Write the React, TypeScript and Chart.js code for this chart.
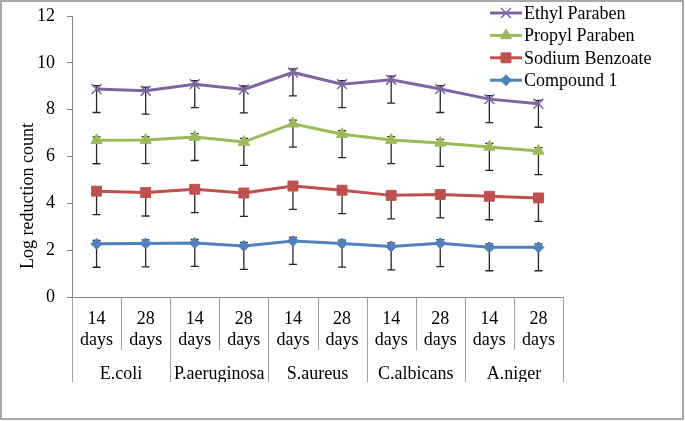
import React, { useEffect, useRef } from 'react';
import { Chart, registerables, Plugin } from 'chart.js';
import { drawPoint } from 'chart.js/helpers';

Chart.register(...registerables);

// categories
const periods = [
  ['14', 'days'], ['28', 'days'],
  ['14', 'days'], ['28', 'days'],
  ['14', 'days'], ['28', 'days'],
  ['14', 'days'], ['28', 'days'],
  ['14', 'days'], ['28', 'days'],
];
const organisms = ['E.coli', 'P.aeruginosa', 'S.aureus', 'C.albicans', 'A.niger'];

// log reduction values
const ethylParaben = [8.88, 8.81, 9.09, 8.86, 9.59, 9.09, 9.28, 8.88, 8.45, 8.25];
const propylParaben = [6.69, 6.70, 6.83, 6.62, 7.40, 6.95, 6.70, 6.58, 6.41, 6.23];
const sodiumBenzoate = [4.52, 4.46, 4.60, 4.44, 4.74, 4.56, 4.34, 4.38, 4.30, 4.23];
const compound1 = [2.27, 2.29, 2.31, 2.18, 2.39, 2.28, 2.16, 2.30, 2.12, 2.12];

// error bar sizes (below / above the point)
const errorBelow = 1.0;
const errorAbove = 0.15;

const yMin = 0;
const yMax = 12;
const yStep = 2;
const yTitle = 'Log reduction count';

const FONT = '"Liberation Serif", "Times New Roman", serif';
const AXIS_GREY = '#868686';

const errorBars: Plugin<'line'> = {
  id: 'errorBars',
  beforeDatasetsDraw(chart) {
    const { ctx } = chart;
    const y = chart.scales.y;
    ctx.save();
    ctx.strokeStyle = '#262626';
    ctx.lineWidth = 1.3;
    chart.data.datasets.forEach((ds, di) => {
      const meta = chart.getDatasetMeta(di);
      meta.data.forEach((pt, i) => {
        const v = ds.data[i] as number;
        const top = y.getPixelForValue(v + errorAbove);
        const bottom = y.getPixelForValue(v - errorBelow);
        const px = pt.x;
        ctx.beginPath();
        ctx.moveTo(px, top);
        ctx.lineTo(px, bottom);
        ctx.moveTo(px - 4, top);
        ctx.lineTo(px + 4, top);
        ctx.moveTo(px - 4, bottom);
        ctx.lineTo(px + 4, bottom);
        ctx.stroke();
      });
    });
    ctx.restore();
  },
};

const decorations: Plugin<'line'> = {
  id: 'decorations',
  afterDraw(chart) {
    const { ctx } = chart;
    const x = chart.scales.x;
    const x2 = chart.scales.x2;
    const half = (x.getPixelForValue(1) - x.getPixelForValue(0)) / 2;
    ctx.save();
    // category separators
    ctx.strokeStyle = '#a0a0a0';
    ctx.lineWidth = 1;
    for (let i = 0; i <= periods.length; i++) {
      const bx = Math.round(x.getPixelForValue(i) - half) + 0.5;
      ctx.beginPath();
      ctx.moveTo(bx, x.top);
      ctx.lineTo(bx, i % 2 === 0 ? x2.bottom : x.bottom);
      ctx.stroke();
    }

    // y axis title
    ctx.save();
    ctx.translate(28, 196);
    ctx.rotate(-Math.PI / 2);
    ctx.font = `18px ${FONT}`;
    ctx.fillStyle = '#000';
    ctx.textAlign = 'center';
    ctx.textBaseline = 'middle';
    ctx.fillText(yTitle, 0, 0);
    ctx.restore();

    // legend
    const legendX = 490;
    const legendTop = 13;
    const rowH = 22.4;
    ctx.font = `18px ${FONT}`;
    ctx.textBaseline = 'middle';
    ctx.textAlign = 'left';
    chart.data.datasets.forEach((ds: any, i) => {
      const cy = legendTop + i * rowH;
      ctx.strokeStyle = ds.borderColor;
      ctx.lineWidth = 3;
      ctx.beginPath();
      ctx.moveTo(legendX, cy);
      ctx.lineTo(legendX + 32, cy);
      ctx.stroke();
      ctx.fillStyle = ds.pointBackgroundColor;
      ctx.strokeStyle = ds.pointBorderColor;
      ctx.lineWidth = ds.pointBorderWidth;
      drawPoint(ctx, { pointStyle: ds.pointStyle, radius: ds.pointRadius, borderWidth: ds.pointBorderWidth, rotation: 0 }, legendX + 16, cy);
      ctx.fillStyle = '#000';
      ctx.fillText(ds.label, legendX + 34, cy + 1);
    });

    // outer frame
    ctx.strokeStyle = '#8c8c8c';
    ctx.lineWidth = 1.5;
    ctx.strokeRect(1, 1, 682, 418);
    ctx.restore();
  },
};

function series(label: string, data: number[], color: string, pointStyle: string, radius: number, borderW: number) {
  return {
    label,
    data,
    borderColor: color,
    backgroundColor: color,
    borderWidth: 3,
    pointStyle,
    pointRadius: radius,
    pointBackgroundColor: color,
    pointBorderColor: color,
    pointBorderWidth: borderW,
    tension: 0,
    xAxisID: 'x',
    yAxisID: 'y',
  };
}

const App: React.FC = () => {
  const canvasRef = useRef<HTMLCanvasElement | null>(null);
  const chartRef = useRef<Chart | null>(null);

  useEffect(() => {
    if (!canvasRef.current) return;
    const ctx = canvasRef.current.getContext('2d');
    if (!ctx) return;
    if (chartRef.current) chartRef.current.destroy();

    Chart.defaults.font.family = FONT;
    Chart.defaults.font.size = 18;
    Chart.defaults.color = '#000';

    chartRef.current = new Chart(ctx, {
      type: 'line',
      data: {
        labels: periods,
        datasets: [
          series('Ethyl Paraben', ethylParaben, '#8064A2', 'crossRot', 7, 1.5),
          series('Propyl Paraben', propylParaben, '#9BBB59', 'triangle', 6.5, 1),
          series('Sodium Benzoate', sodiumBenzoate, '#C0504D', 'rect', 7, 1),
          series('Compound 1', compound1, '#4F81BD', 'rectRot', 5.5, 1),
        ] as any,
      },
      options: {
        animation: false,
        responsive: true,
        maintainAspectRatio: false,
        layout: { padding: { top: 16, right: 122, bottom: 39, left: 0 } },
        plugins: {
          legend: { display: false },
          tooltip: { enabled: false },
        },
        scales: {
          x: {
            type: 'category',
            offset: true,
            grid: { display: false },
            border: { display: true, color: AXIS_GREY, width: 1 },
            ticks: { padding: 3, maxRotation: 0, autoSkip: false, font: { size: 18, family: FONT } },
            afterFit: (s: any) => { s.height = 53; s.paddingLeft = 0; s.paddingRight = 0; },
          },
          x2: {
            type: 'category',
            position: 'bottom',
            labels: organisms,
            offset: true,
            grid: { display: false },
            border: { display: false },
            ticks: { padding: 5, maxRotation: 0, autoSkip: false, font: { size: 18, family: FONT } },
            afterFit: (s: any) => { s.height = 32; s.paddingLeft = 0; s.paddingRight = 0; },
          },
          y: {
            min: yMin,
            max: yMax,
            ticks: { stepSize: yStep, padding: 12, font: { size: 18, family: FONT } },
            grid: { drawOnChartArea: false, drawTicks: true, tickLength: 5, color: AXIS_GREY },
            border: { display: true, color: AXIS_GREY, width: 1 },
            title: { display: false },
            afterFit: (s: any) => { s.width = 72; s.paddingTop = 0; s.paddingBottom = 0; },
          },
        },
      },
      plugins: [errorBars, decorations],
    });

    return () => {
      if (chartRef.current) {
        chartRef.current.destroy();
        chartRef.current = null;
      }
    };
  }, []);

  return (
    <div style={{ position: 'absolute', left: 0, top: 0, width: 685, height: 421, background: '#fff' }}>
      <canvas ref={canvasRef} />
    </div>
  );
};

export default App;
